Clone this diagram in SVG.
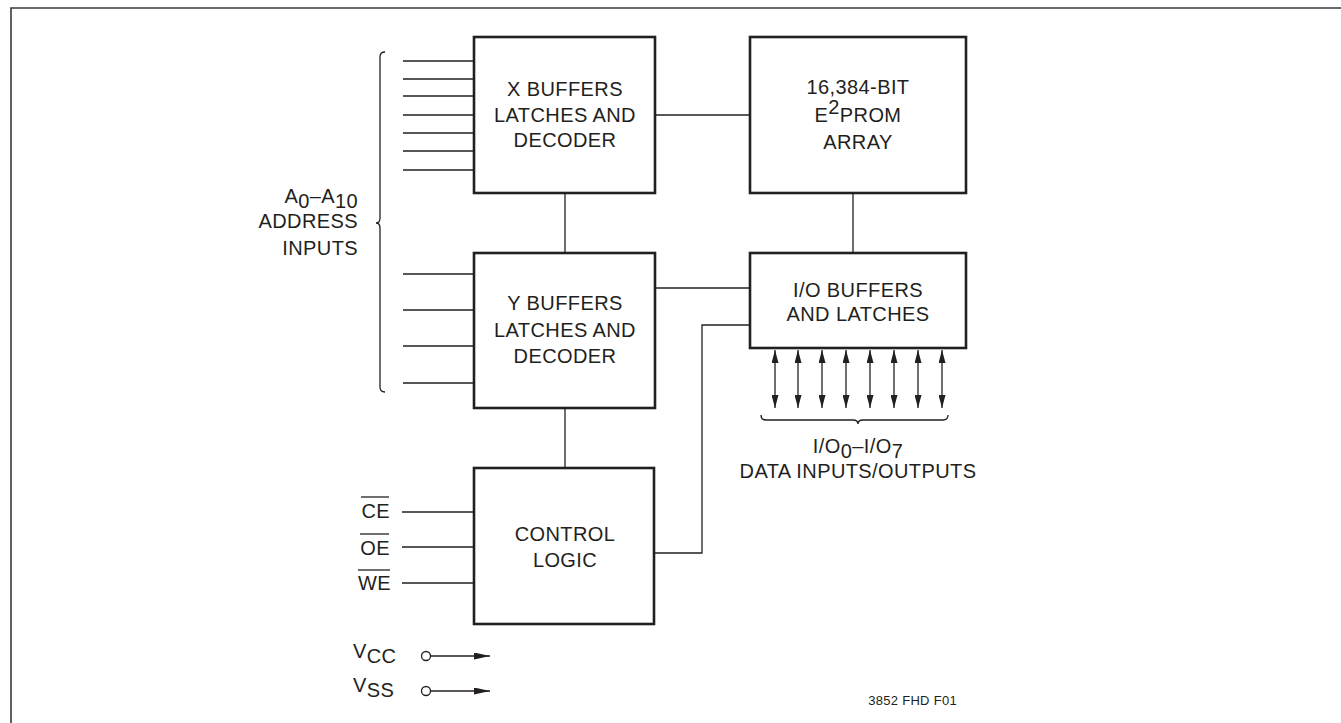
<svg xmlns="http://www.w3.org/2000/svg" width="1341" height="723" viewBox="0 0 1341 723">
<style>
text{font-family:"Liberation Sans",Arial,Helvetica,sans-serif;font-size:20px;letter-spacing:0.4px;fill:#231f20}
.c{text-anchor:middle}
.e{text-anchor:end}
.box{fill:#fff;stroke:#231f20;stroke-width:2.6}
.ln{fill:none;stroke:#231f20;stroke-width:1.3}
.frame{fill:none;stroke:#3a3a3a;stroke-width:1.6}
.small{font-size:13px;letter-spacing:0.3px}
</style>
<defs>
<marker id="ah" viewBox="0 0 13 7" refX="13" refY="3.5" markerWidth="13" markerHeight="7" markerUnits="userSpaceOnUse" orient="auto-start-reverse">
<path d="M0,0 L13,3.5 L0,7 Z" fill="#231f20"/>
</marker>
<marker id="ah2" viewBox="0 0 16 7" refX="16" refY="3.5" markerWidth="16" markerHeight="7" markerUnits="userSpaceOnUse" orient="auto">
<path d="M0,0 L16,3.5 L0,7 Z" fill="#231f20"/>
</marker>
</defs>
<rect x="0" y="0" width="1341" height="723" fill="#fff"/>
<path class="frame" d="M11,723 V8 H1341"/>

<g id="connectors">
<path class="ln" d="M403,61H474M403,79H474M403,96H474M403,115H474M403,133H474M403,151H474M403,170H474"/>
<path class="ln" d="M403,274H474M403,310H474M403,346H474M403,383H474"/>
<path class="ln" d="M385,52 Q380,52 380,57 V218 Q380,223 376,223 Q380,223 380,228 V387 Q380,392 385,392"/>
<path class="ln" d="M655,115H750"/>
<path class="ln" d="M565,193V253"/>
<path class="ln" d="M853,193V253"/>
<path class="ln" d="M655,288H750"/>
<path class="ln" d="M565,408V468"/>
<path class="ln" d="M654,553H702V325H750"/>
<path class="ln" d="M402,512H474M402,547H474M402,583H474"/>
<g marker-start="url(#ah)" marker-end="url(#ah)">
<line class="ln" x1="775" y1="350" x2="775" y2="408"/>
<line class="ln" x1="798" y1="350" x2="798" y2="408"/>
<line class="ln" x1="822" y1="350" x2="822" y2="408"/>
<line class="ln" x1="846" y1="350" x2="846" y2="408"/>
<line class="ln" x1="870" y1="350" x2="870" y2="408"/>
<line class="ln" x1="894" y1="350" x2="894" y2="408"/>
<line class="ln" x1="918" y1="350" x2="918" y2="408"/>
<line class="ln" x1="942" y1="350" x2="942" y2="408"/>
</g>
<path class="ln" d="M761,415 Q761,420 766,420 H853 Q858,420 858,424 Q858,420 863,420 H943 Q948,420 948,415"/>
<circle class="ln" cx="426" cy="656" r="4.5" fill="#fff"/>
<line class="ln" x1="430.5" y1="656" x2="490" y2="656" marker-end="url(#ah2)"/>
<circle class="ln" cx="426" cy="691" r="4.5" fill="#fff"/>
<line class="ln" x1="430.5" y1="691" x2="490" y2="691" marker-end="url(#ah2)"/>
</g>

<g id="x-buffers">
<rect class="box" x="474" y="37" width="181" height="156"/>
<text class="c" x="565" y="96">X BUFFERS</text>
<text class="c" x="565" y="122">LATCHES AND</text>
<text class="c" x="565" y="147">DECODER</text>
</g>

<g id="eeprom-array">
<rect class="box" x="750" y="37" width="216" height="156"/>
<text class="c" x="858" y="94">16,384-BIT</text>
<text class="c" x="858" y="122">E<tspan dy="-8">2</tspan><tspan dy="8">PROM</tspan></text>
<text class="c" x="858" y="149">ARRAY</text>
</g>

<g id="y-buffers">
<rect class="box" x="474" y="253" width="181" height="155"/>
<text class="c" x="565" y="310">Y BUFFERS</text>
<text class="c" x="565" y="337">LATCHES AND</text>
<text class="c" x="565" y="363">DECODER</text>
</g>

<g id="io-buffers">
<rect class="box" x="750" y="253" width="216" height="95"/>
<text class="c" x="858" y="297">I/O BUFFERS</text>
<text class="c" x="858" y="321">AND LATCHES</text>
</g>

<g id="control-logic">
<rect class="box" x="474" y="468" width="180" height="156"/>
<text class="c" x="565" y="541">CONTROL</text>
<text class="c" x="565" y="567">LOGIC</text>
</g>

<g id="address-label">
<text class="e" x="358" y="203">A<tspan dy="5">0</tspan><tspan dy="-5">–A</tspan><tspan dy="5">10</tspan></text>
<text class="e" x="358" y="228">ADDRESS</text>
<text class="e" x="358" y="255">INPUTS</text>
</g>

<g id="data-label">
<text class="c" x="858" y="453">I/O<tspan dy="5">0</tspan><tspan dy="-5">–I/O</tspan><tspan dy="5">7</tspan></text>
<text class="c" x="858" y="478">DATA INPUTS/OUTPUTS</text>
</g>

<g id="control-labels">
<text class="e" x="390" y="518">CE</text>
<line class="ln" x1="361" y1="497" x2="389" y2="497"/>
<text class="e" x="390" y="555">OE</text>
<line class="ln" x1="360" y1="534" x2="389" y2="534"/>
<text class="e" x="391" y="590">WE</text>
<line class="ln" x1="358" y1="570" x2="390" y2="570"/>
</g>

<g id="power-labels">
<text x="353" y="658">V<tspan dy="5">CC</tspan></text>
<text x="353" y="692">V<tspan dy="5">SS</tspan></text>
</g>

<text class="e small" x="957" y="705">3852 FHD F01</text>
</svg>
